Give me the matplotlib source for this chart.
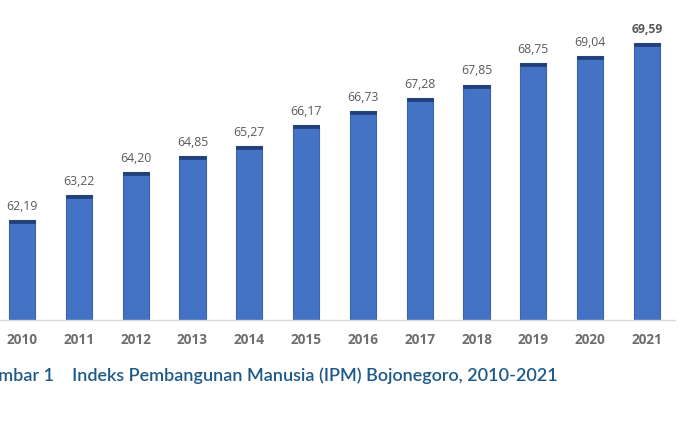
import numpy as np
import matplotlib.pyplot as plt

# IPM Bojonegoro 2010-2021
years = ["2010", "2011", "2012", "2013", "2014", "2015",
         "2016", "2017", "2018", "2019", "2020", "2021"]
ipm = [62.19, 63.22, 64.20, 64.85, 65.27, 66.17,
       66.73, 67.28, 67.85, 68.75, 69.04, 69.59]

W, H = 696, 436
fig = plt.figure(figsize=(W / 100, H / 100), dpi=100)

# axes placed in pixel terms
left_px, right_px = -6.4, 675.4
bottom_px, top_px = 116, 406
ax = fig.add_axes([left_px / W, bottom_px / H,
                   (right_px - left_px) / W, (top_px - bottom_px) / H])

x = np.arange(len(years))
vals = np.array(ipm)
ymin = 58.0
px_per_unit = 23.9
ax.set_ylim(ymin, ymin + (top_px - bottom_px) / px_per_unit)
ax.set_xlim(-0.5, len(years) - 0.5)

bw = 0.46
ax.bar(x, vals - ymin, bottom=ymin, width=bw, color="#4472C4",
       edgecolor="#3B63B0", linewidth=0.8, zorder=2)
# dark cap on top of each bar
cap = 0.13
ax.bar(x, cap, bottom=vals - cap, width=bw, color="#213F78",
       edgecolor="#213F78", linewidth=0.5, zorder=3)

for i, v in enumerate(ipm):
    lbl = f"{v:.2f}".replace(".", ",")
    ax.text(i, v + 0.3, lbl, ha="center", va="bottom", fontsize=8.8,
            color="#595959", family="Open Sans",
            fontweight="bold" if i == len(ipm) - 1 else "normal")

ax.set_xticks(x)
ax.set_xticklabels(years, fontsize=9.8, color="#6E6E6E",
                   fontweight="bold", family="Open Sans")
ax.tick_params(axis="x", length=0, pad=9)
ax.set_yticks([])
for s in ["top", "right", "left"]:
    ax.spines[s].set_visible(False)
ax.spines["bottom"].set_color("#D9D9D9")
ax.spines["bottom"].set_linewidth(1.0)

fig.text(-24 / W, 1 - 376 / H,
         "Gambar 1    Indeks Pembangunan Manusia (IPM) Bojonegoro, 2010-2021",
         fontsize=13, color="#1D5A8A", family="Lato", fontweight="semibold",
         va="center", ha="left")

fig.savefig("out.png", dpi=100, facecolor="white")
